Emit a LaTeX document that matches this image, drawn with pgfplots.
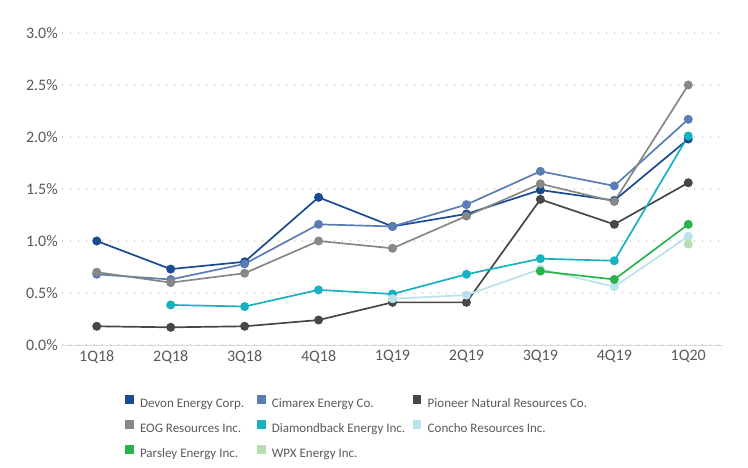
\documentclass[border=0pt]{standalone}
\usepackage{fontspec}
\setmainfont{Carlito}
\usepackage{pgfplots}
\pgfplotsset{compat=1.18}
\definecolor{devon}{HTML}{1A4A90}
\definecolor{cimarex}{HTML}{5B7DB6}
\definecolor{pioneer}{HTML}{474747}
\definecolor{eog}{HTML}{878787}
\definecolor{diamond}{HTML}{16B2C0}
\definecolor{concho}{HTML}{B8E3EC}
\definecolor{parsley}{HTML}{2BB34B}
\definecolor{wpx}{HTML}{B8DDB2}
\definecolor{txt}{HTML}{595959}
\begin{document}
\begin{tikzpicture}
\useasboundingbox (0,0) rectangle (748bp,468bp);
\begin{axis}[
  at={(62bp,123bp)}, anchor=south west, scale only axis,
  width=661bp, height=312bp,
  xmin=-0.47, xmax=8.47, ymin=0, ymax=3,
  xtick={0,...,8},
  xticklabels={1Q18,2Q18,3Q18,4Q18,1Q19,2Q19,3Q19,4Q19,1Q20},
  ytick={0,0.5,...,3},
  yticklabels={0.0\%,0.5\%,1.0\%,1.5\%,2.0\%,2.5\%,3.0\%},
  axis line style={draw=none},
  major tick length=0pt,
  ymajorgrids,
  grid style={color=gray!40, line width=1.2bp, dash pattern=on 1.2bp off 6.8bp},
  extra y ticks={0}, extra y tick labels={},
  extra y tick style={grid style={solid, color=gray!30, line width=1bp}},
  ticklabel style={font=\fontsize{16bp}{18bp}\selectfont, text=txt},
  /pgf/number format/assume math mode=true,
  yticklabel style={inner sep=0pt, anchor=east, xshift=-4bp},
  xticklabel style={inner sep=0pt, anchor=north, yshift=-5bp},
  every axis plot/.append style={line width=1.7bp, mark=*, mark size=3.6bp, mark options={solid}},
  legend columns=3, legend cell align=left,
  legend style={at={(0.0953,-0.160)}, anchor=north west, draw=none, fill=none,
    inner sep=0pt, row sep=10bp, column sep=0pt,
    font=\fontsize{13bp}{15bp}\selectfont, text=txt,
    nodes={inner sep=0pt, text height=9.5bp, text depth=2.5bp}},
  legend image code/.code={\fill[#1,draw=none] (0bp,0.5bp) rectangle (8.5bp,9bp); \path (14bp,0bp);},
]
\addplot[color=devon] coordinates {(0,1.00) (1,0.73) (2,0.80) (3,1.42) (4,1.14) (5,1.26) (6,1.49) (7,1.39) (8,1.98)};
\addlegendentry{\makebox[117bp][l]{Devon Energy Corp.}}
\addplot[color=cimarex] coordinates {(0,0.68) (1,0.63) (2,0.78) (3,1.16) (4,1.14) (5,1.35) (6,1.67) (7,1.53) (8,2.17)};
\addlegendentry{\makebox[141bp][l]{Cimarex Energy Co.}}
\addplot[color=pioneer] coordinates {(0,0.18) (1,0.17) (2,0.18) (3,0.24) (4,0.41) (5,0.41) (6,1.40) (7,1.16) (8,1.56)};
\addlegendentry{Pioneer Natural Resources Co.}
\addplot[color=eog] coordinates {(0,0.70) (1,0.60) (2,0.69) (3,1.00) (4,0.93) (5,1.24) (6,1.55) (7,1.38) (8,2.50)};
\addlegendentry{\makebox[117bp][l]{EOG Resources Inc.}}
\addplot[color=diamond] coordinates {(1,0.385) (2,0.37) (3,0.53) (4,0.49) (5,0.68) (6,0.83) (7,0.81) (8,2.01)};
\addlegendentry{\makebox[141bp][l]{Diamondback Energy Inc.}}
\addplot[color=concho] coordinates {(4,0.445) (5,0.48) (6,0.73) (7,0.56) (8,1.045)};
\addlegendentry{Concho Resources Inc.}
\addplot[color=parsley] coordinates {(6,0.71) (7,0.63) (8,1.16)};
\addlegendentry{\makebox[117bp][l]{Parsley Energy Inc.}}
\addplot[color=wpx] coordinates {(8,0.97)};
\addlegendentry{\makebox[141bp][l]{WPX Energy Inc.}}
\end{axis}
\end{tikzpicture}
\end{document}
